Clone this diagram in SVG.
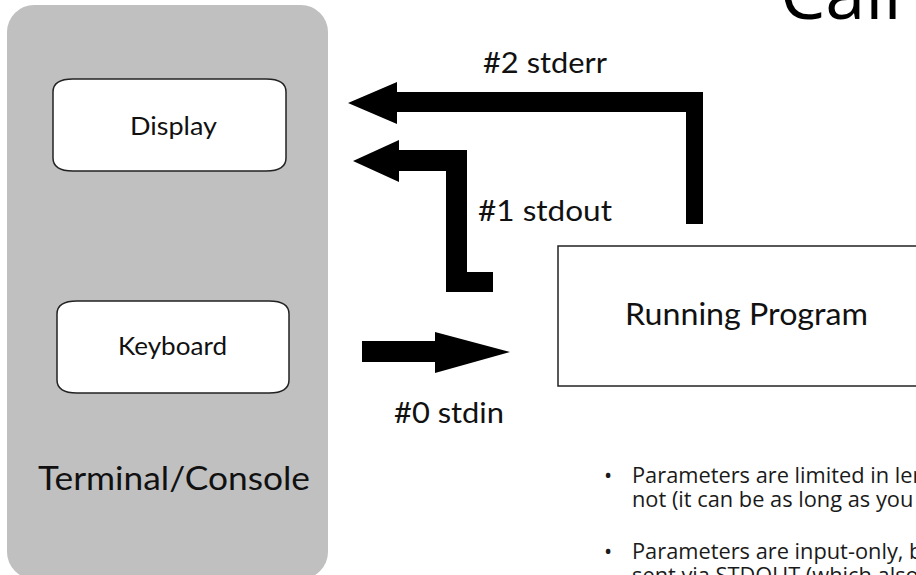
<svg xmlns="http://www.w3.org/2000/svg" width="916" height="575" viewBox="0 0 916 575">
  <style>
    .lbl { font-family: Lato, "Liberation Sans", sans-serif; fill: #111; }
    .bul { font-family: "Open Sans", "Noto Sans", sans-serif; font-size: 21.8px; fill: #1a1a1a; }
    .node { fill: #fff; stroke: #222; stroke-width: 1.5; }
    .arrow { fill: #000; }
  </style>
  <rect width="916" height="575" fill="#fff"/>
  <text x="780" y="19" font-family="'Open Sans', 'Noto Sans', sans-serif" font-size="72" fill="#000">Call</text>

  <g id="terminal">
    <rect x="7" y="5" width="321" height="574" rx="27" ry="27" fill="#c0c0c0"/>
    <text class="lbl" x="38" y="490" font-size="33" textLength="272" lengthAdjust="spacingAndGlyphs">Terminal/Console</text>
  </g>

  <g id="display">
    <path class="node" d="M73,79 H266 Q286,79 286,92 V158 Q286,171 266,171 H73 Q53,171 53,158 V92 Q53,79 73,79 Z"/>
    <text class="lbl" x="130" y="135" font-size="25" textLength="87" lengthAdjust="spacingAndGlyphs">Display</text>
  </g>

  <g id="keyboard">
    <path class="node" d="M77,301 H269 Q289,301 289,314 V380 Q289,393 269,393 H77 Q57,393 57,380 V314 Q57,301 77,301 Z"/>
    <text class="lbl" x="118" y="355" font-size="25" textLength="109" lengthAdjust="spacingAndGlyphs">Keyboard</text>
  </g>

  <g id="program">
    <rect class="node" x="558" y="246" width="380" height="140"/>
    <text class="lbl" x="625" y="325" font-size="30" textLength="243" lengthAdjust="spacingAndGlyphs">Running Program</text>
  </g>

  <g id="connectors">
    <polygon class="arrow" points="348,103 397,82 397,92 703,92 703,224 686,224 686,112 397,112 397,124"/>
    <polygon class="arrow" points="353,161 399,140 399,150 467,150 467,272 493,272 493,292 446,292 446,171 399,171 399,182"/>
    <polygon class="arrow" points="362,341 435,341 435,332 510,352 435,373 435,362 362,362"/>
    <text class="lbl" x="483" y="73" font-size="28" textLength="124" lengthAdjust="spacingAndGlyphs">#2 stderr</text>
    <text class="lbl" x="478" y="221" font-size="28" textLength="134" lengthAdjust="spacingAndGlyphs">#1 stdout</text>
    <text class="lbl" x="394" y="423" font-size="28" textLength="110" lengthAdjust="spacingAndGlyphs">#0 stdin</text>
  </g>

  <g id="notes">
    <text class="bul" x="604" y="483">•</text>
    <text class="bul"><tspan x="632" y="483">Parameters are limited in length</tspan><tspan x="632" y="507">not (it can be as long as you</tspan></text>
    <text class="bul" x="604" y="559">•</text>
    <text class="bul"><tspan x="632" y="559">Parameters are input-only, but</tspan><tspan x="632" y="583">sent via STDOUT (which also</tspan></text>
  </g>
</svg>
